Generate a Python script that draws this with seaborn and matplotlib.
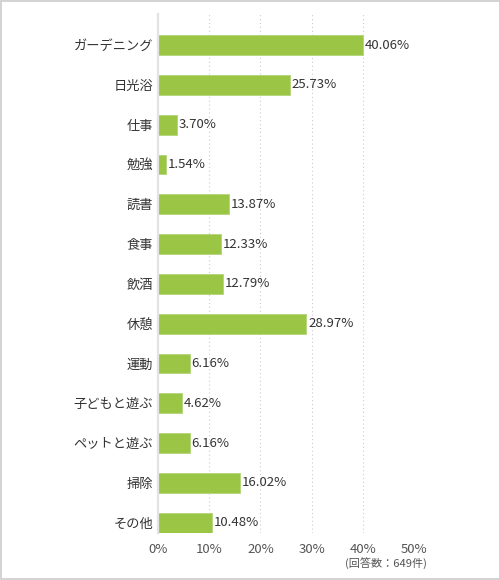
import pandas as pd
import matplotlib.pyplot as plt
import seaborn as sns
from matplotlib.patches import Rectangle

categories = ['ガーデニング', '日光浴', '仕事', '勉強', '読書', '食事', '飲酒',
              '休憩', '運動', '子どもと遊ぶ', 'ペットと遊ぶ', '掃除', 'その他']
values = [40.06, 25.73, 3.70, 1.54, 13.87, 12.33, 12.79,
          28.97, 6.16, 4.62, 6.16, 16.02, 10.48]
x_ticks = [0, 10, 20, 30, 40, 50]
note = '(回答数：649件)'

sns.set_style('white')
plt.rcParams['font.family'] = ['Noto Sans CJK JP', 'DejaVu Sans']

df = pd.DataFrame({'category': categories, 'value': values})

fig = plt.figure(figsize=(5, 5.8), dpi=100)
ax = fig.add_axes([0.316, 0.081, 0.512, 0.8948])

sns.barplot(data=df, x='value', y='category', orient='h', color='#9bc545',
            width=0.5, edgecolor='#b3d57a', linewidth=0.6, saturation=1, ax=ax)

# value labels right at the bar ends
for i, v in enumerate(values):
    ax.text(v + 0.35, i, f'{v:.2f}%', va='center', ha='left',
            fontsize=9.5, color='#333333')

ax.set_xlim(0, 50)
ax.set_ylim(12.26, -0.78)
ax.set_xticks(x_ticks)
ax.set_xticklabels([f'{t}%' for t in x_ticks])
ax.tick_params(axis='x', length=0, pad=7, labelsize=9.5, labelcolor='#555555')
ax.tick_params(axis='y', length=0, pad=3.5, labelsize=9.5, labelcolor='#333333')
ax.set_xlabel('')
ax.set_ylabel('')

for t in x_ticks[1:]:
    ax.axvline(t, color='#cccccc', linestyle=(0, (1, 2.5)), linewidth=0.8, zorder=0)

for side in ['top', 'right', 'bottom']:
    ax.spines[side].set_visible(False)
ax.spines['left'].set_color('#e3e3e3')
ax.spines['left'].set_linewidth(1.6)

fig.text(427 / 500, 1 - 564 / 580, note, ha='right', va='center',
         fontsize=8, color='#555555')

fig.patches.append(Rectangle((0.001, 0.001), 0.998, 0.998, transform=fig.transFigure,
                             fill=False, edgecolor='#cccccc', linewidth=1.2))

fig.savefig('out.png', dpi=100)
